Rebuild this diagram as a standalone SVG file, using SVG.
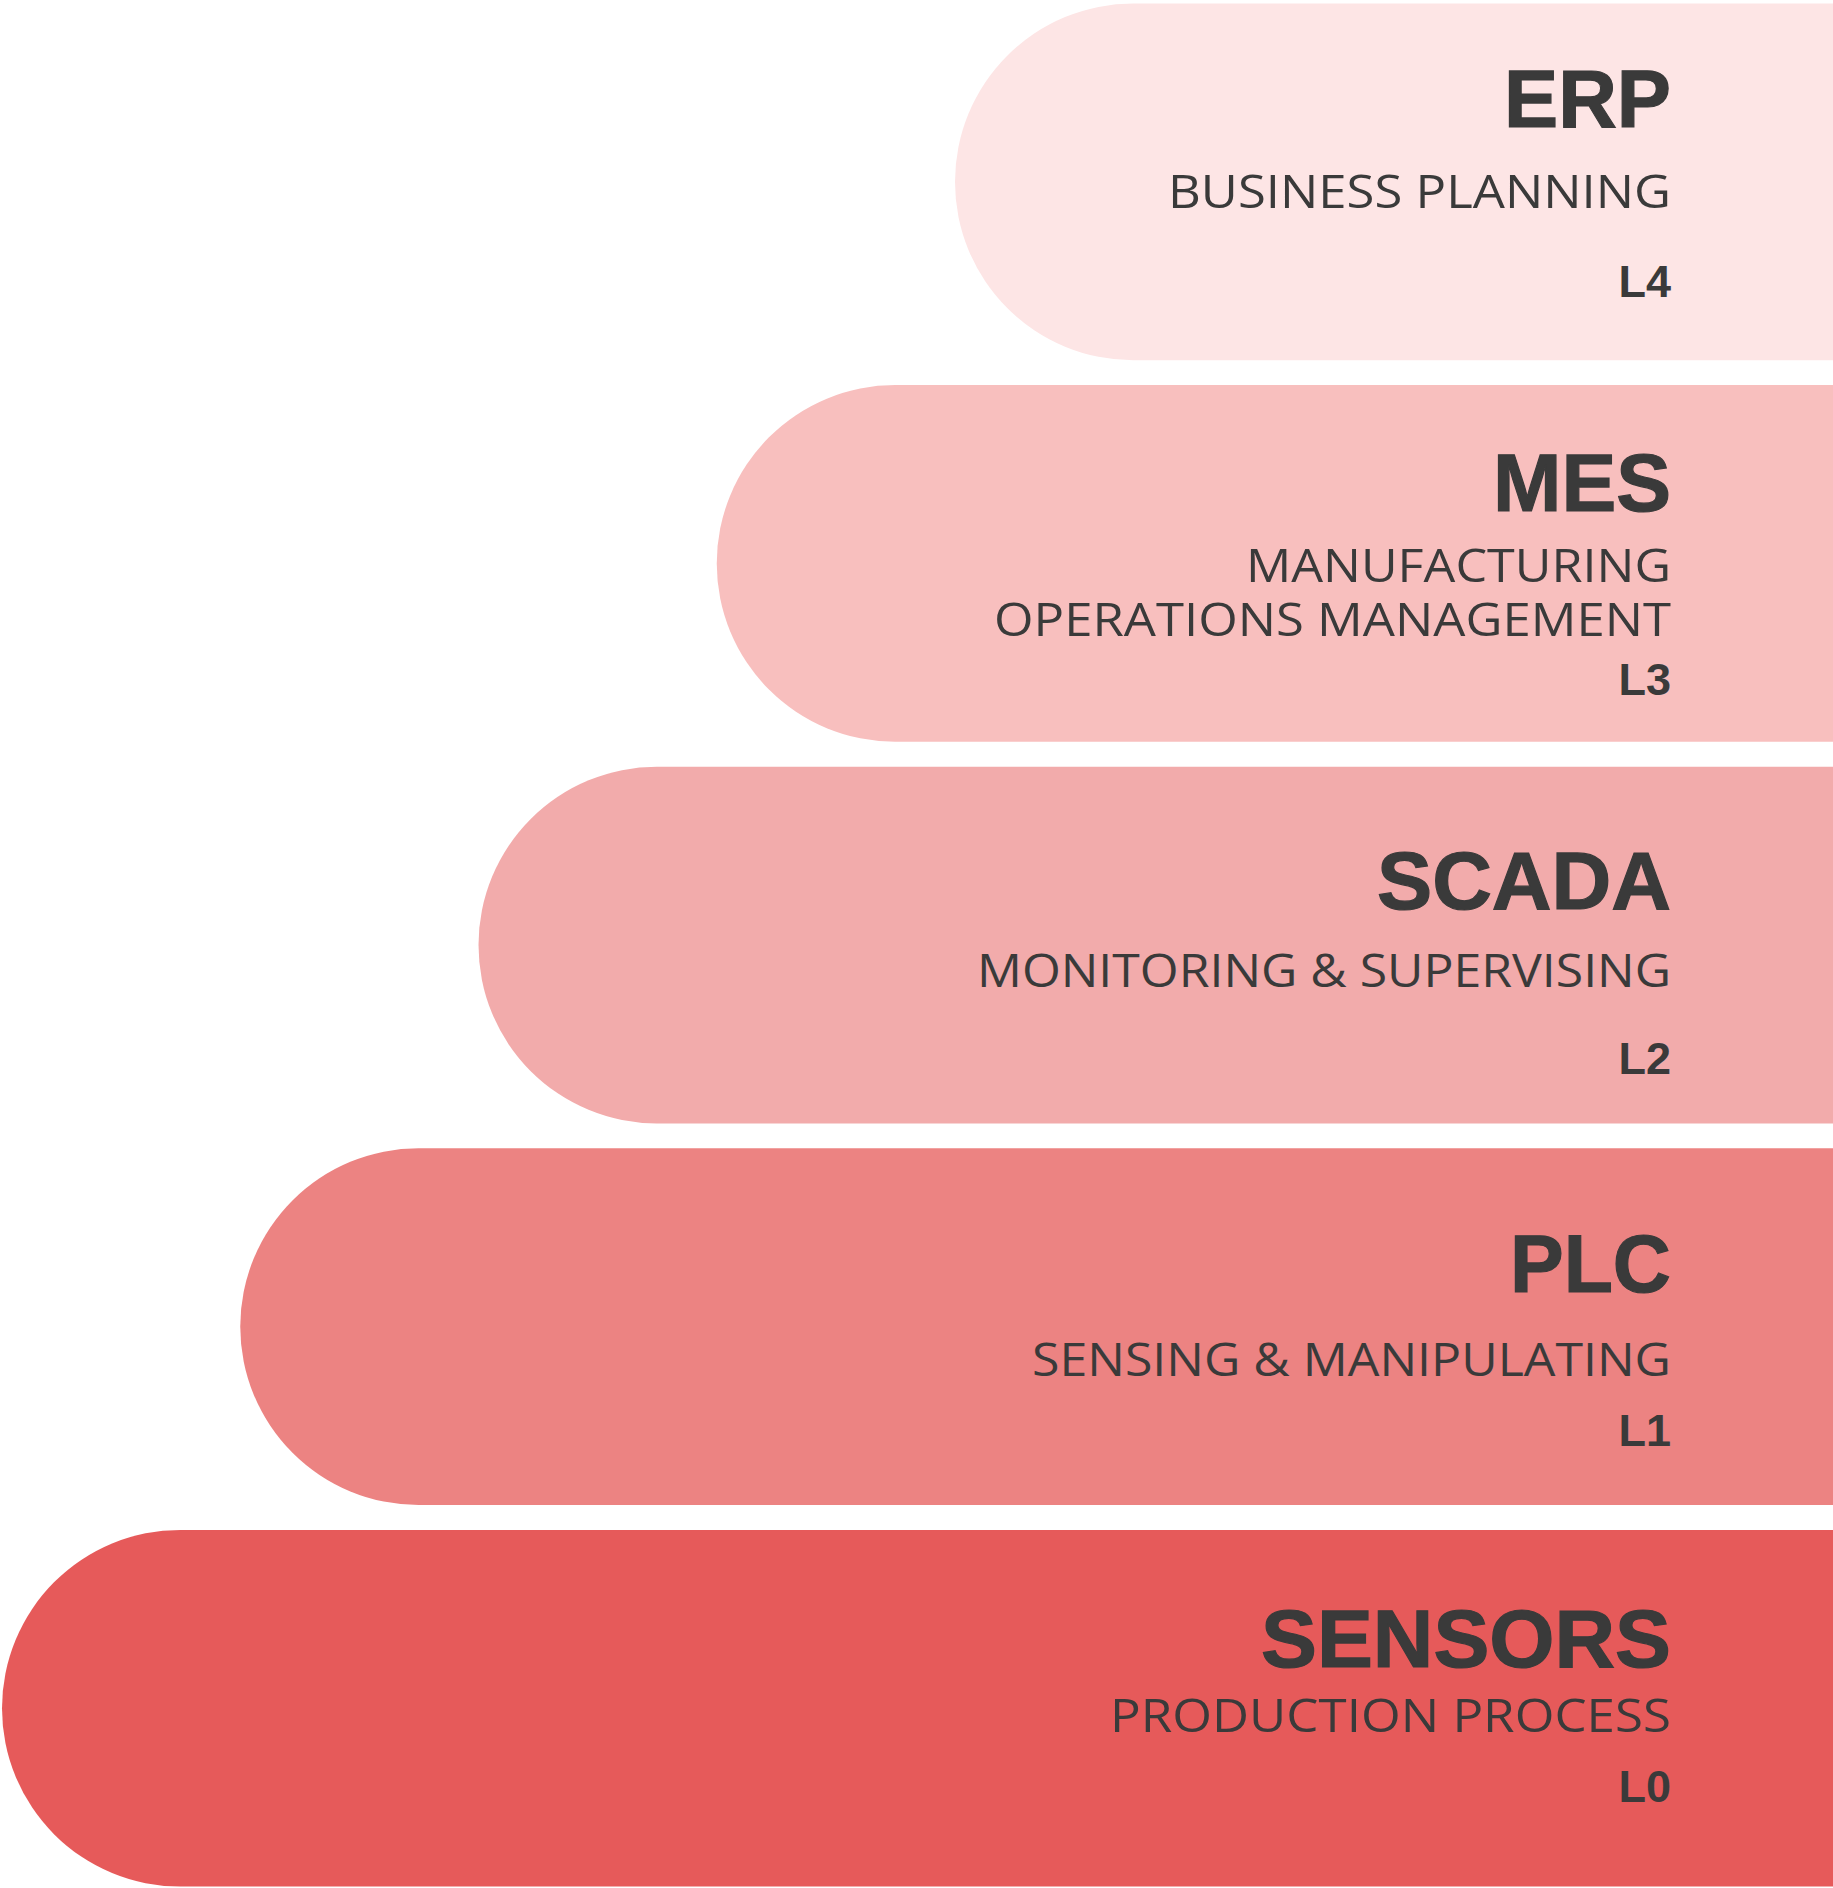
<svg xmlns="http://www.w3.org/2000/svg" width="1833" height="1888" viewBox="0 0 1833 1888">
<style>
.title{font-family:"Liberation Sans",Arial,sans-serif;font-weight:700;font-size:82px;fill:#3a3a3a;stroke:#3a3a3a;stroke-width:1.2px}
.sub{font-family:"Open Sans","Noto Sans",sans-serif;font-weight:400;font-size:46px;fill:#3a3a3a}
.lvl{font-family:"Liberation Sans",Arial,sans-serif;font-weight:700;font-size:45px;fill:#3a3a3a;text-anchor:end}
</style>
<rect width="1833" height="1888" fill="#ffffff"/>
<g id="erp">
<rect x="955" y="3.5" width="1060" height="356.7" rx="178.3" ry="178.3" fill="#fde5e5"/>
<text class="title" x="1504" y="126.7" textLength="167" lengthAdjust="spacingAndGlyphs">ERP</text>
<text class="sub" x="1168" y="208" textLength="503" lengthAdjust="spacingAndGlyphs">BUSINESS PLANNING</text>
<text class="lvl" x="1671" y="297">L4</text>
</g>
<g id="mes">
<rect x="716.75" y="385.1" width="1300" height="356.7" rx="178.3" ry="178.3" fill="#f8bfbe"/>
<text class="title" x="1493" y="510.7" textLength="178" lengthAdjust="spacingAndGlyphs">MES</text>
<text class="sub" x="1246" y="581.7" textLength="425" lengthAdjust="spacingAndGlyphs">MANUFACTURING</text>
<text class="sub" x="994" y="636" textLength="677" lengthAdjust="spacingAndGlyphs">OPERATIONS MANAGEMENT</text>
<text class="lvl" x="1671" y="695">L3</text>
</g>
<g id="scada">
<rect x="478.5" y="766.7" width="1540" height="356.7" rx="178.3" ry="178.3" fill="#f2abab"/>
<text class="title" x="1377" y="909.3" textLength="294" lengthAdjust="spacingAndGlyphs">SCADA</text>
<text class="sub" x="977" y="986.7" textLength="694" lengthAdjust="spacingAndGlyphs">MONITORING &amp; SUPERVISING</text>
<text class="lvl" x="1671" y="1074.3">L2</text>
</g>
<g id="plc">
<rect x="240.25" y="1148.3" width="1780" height="356.7" rx="178.3" ry="178.3" fill="#ec8382"/>
<text class="title" x="1510" y="1292.3" textLength="161" lengthAdjust="spacingAndGlyphs">PLC</text>
<text class="sub" x="1032" y="1376" textLength="639" lengthAdjust="spacingAndGlyphs">SENSING &amp; MANIPULATING</text>
<text class="lvl" x="1671" y="1446">L1</text>
</g>
<g id="sensors">
<rect x="2" y="1529.9" width="2020" height="356.7" rx="178.3" ry="178.3" fill="#e65a5a"/>
<text class="title" x="1261" y="1666.7" textLength="410" lengthAdjust="spacingAndGlyphs">SENSORS</text>
<text class="sub" x="1110" y="1732.3" textLength="561" lengthAdjust="spacingAndGlyphs">PRODUCTION PROCESS</text>
<text class="lvl" x="1671" y="1802.3">L0</text>
</g>
<g id="connectors"></g>
</svg>
